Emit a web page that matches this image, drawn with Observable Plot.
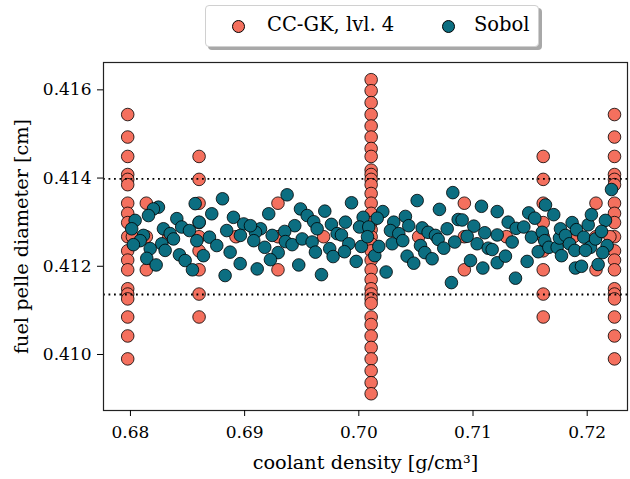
<!DOCTYPE html>
<html>
<head>
<meta charset="utf-8">
<script src="https://cdn.jsdelivr.net/npm/d3@7"></script>
<script src="https://cdn.jsdelivr.net/npm/@observablehq/plot@0.6"></script>
<style>
  body { margin: 0; background: #fff; }
  #wrap { position: relative; width: 630px; height: 479px; font-family: "DejaVu Serif", serif; }
  .legend { position: absolute; left: 205px; top: 5px; width: 332px; height: 40px;
            border: 1px solid #d0d0d0; border-radius: 4px; background: #fff;
            box-shadow: 3px 3px 0 #a8a8a8; font-size: 19.5px; color: #000; }
  .legend .mk { position: absolute; top: 14px; width: 11px; height: 11px; border-radius: 50%;
                border: 0.9px solid #000; }
  .legend .lb { position: absolute; top: 7px; white-space: nowrap; }
  g[aria-label="x-axis label"] text, g[aria-label="y-axis label"] text { font-size: 19.3px; }
</style>
</head>
<body>
<div id="wrap"></div>
<script>
// ---- data ----
const seriesNames = ["CC-GK, lvl. 4", "Sobol"];
const seriesColors = ["#f4705e", "#0c6e81"];

// CC-GK sparse grid: x nodes by level and the y nodes used at those x nodes
const ccgkX_l1 = [0.70108];
const ccgkX_l2 = [0.67976, 0.72239];
const ccgkX_l3 = [0.68601, 0.71615];
const ccgkX_l4 = [0.68139, 0.69292, 0.70924, 0.72077];
const ccgkX_l5 = [0.68017, 0.68336, 0.68924, 0.69692, 0.70524, 0.71292, 0.71880, 0.72199];

const ccgkY_35 = [0.41623, 0.41598, 0.41571, 0.41544, 0.41518, 0.41493, 0.41467, 0.41449,
                  0.41418, 0.41408, 0.41397, 0.41385, 0.41365, 0.41343, 0.41320, 0.41299,
                  0.41283, 0.41267, 0.41251, 0.41235, 0.41214, 0.41192, 0.41170, 0.41149,
                  0.41137, 0.41126, 0.41116, 0.41085, 0.41068, 0.41042, 0.41016, 0.40990,
                  0.40963, 0.40936, 0.40911];
const ccgkY_19 = [0.41544, 0.41493, 0.41449, 0.41408, 0.41397, 0.41385, 0.41343, 0.41320, 0.41299,
                  0.41267, 0.41235, 0.41214, 0.41192, 0.41149, 0.41137, 0.41126, 0.41085, 0.41042, 0.40990];
const ccgkY_9 = [0.41449, 0.41397, 0.41343, 0.41299, 0.41267, 0.41235, 0.41192, 0.41137, 0.41085];
const ccgkY_3 = [0.41343, 0.41267, 0.41192];
const ccgkY_1 = [0.41267];

// Sobol samples
const sobolX = [
  0.68567, 0.68806, 0.68245, 0.68201, 0.68158, 0.68041, 0.68011, 0.68406, 0.68449, 0.68289,
  0.68348, 0.68377, 0.68517, 0.68602, 0.68712, 0.68902, 0.68843, 0.68692, 0.68756, 0.68639,
  0.68581, 0.68274, 0.68304, 0.68173, 0.68114, 0.68085, 0.68026, 0.68143, 0.68225, 0.68429,
  0.68479, 0.68543, 0.68829, 0.68873, 0.68961,
  0.69372, 0.69211, 0.69489, 0.69548, 0.69702, 0.69936, 0.69605, 0.69635, 0.69760, 0.69883,
  0.70038, 0.70006, 0.69810, 0.69848, 0.69439, 0.69351, 0.69241, 0.69139, 0.69095, 0.68992,
  0.69051, 0.68963, 0.69080, 0.69176, 0.69357, 0.69416, 0.69504, 0.69591, 0.69745, 0.69620,
  0.69775, 0.69912, 0.69874, 0.70023, 0.69977, 0.69294, 0.69226, 0.69110, 0.69474, 0.69673,
  0.70823, 0.70511, 0.70706, 0.71074, 0.71212, 0.70210, 0.70161, 0.70408, 0.70306, 0.70437,
  0.70277, 0.70350, 0.70555, 0.70607, 0.70774, 0.70870, 0.70905, 0.71007, 0.71103, 0.71212,
  0.70671, 0.70695, 0.70840, 0.70949, 0.70292, 0.70385, 0.70540, 0.70578, 0.70642, 0.70744,
  0.71036, 0.71133, 0.71168, 0.71212, 0.70978, 0.71086, 0.70423, 0.70481, 0.70239, 0.70140,
  0.70175, 0.70811, 0.70087, 0.70076,
  0.71308, 0.71343, 0.71378, 0.71445, 0.71488, 0.71541, 0.71635, 0.71707, 0.71512, 0.71606,
  0.71628, 0.71571, 0.71474, 0.71284, 0.71372, 0.71664, 0.71737, 0.71757, 0.71766, 0.71810,
  0.71868, 0.71906, 0.71845, 0.71775, 0.71891, 0.71897, 0.71950, 0.72009, 0.71970, 0.72029,
  0.71985, 0.72037, 0.72073, 0.72160, 0.72125, 0.72175, 0.72136, 0.72096, 0.72213
];
const sobolY = [
  0.41342, 0.41353, 0.41334, 0.41330, 0.41315, 0.41304, 0.41285, 0.41308, 0.41289, 0.41285,
  0.41274, 0.41262, 0.41281, 0.41300, 0.41319, 0.41311, 0.41281, 0.41266, 0.41247, 0.41224,
  0.41258, 0.41251, 0.41236, 0.41240, 0.41270, 0.41258, 0.41249, 0.41218, 0.41203, 0.41226,
  0.41213, 0.41192, 0.41179, 0.41232, 0.41206,
  0.41362, 0.41319, 0.41330, 0.41315, 0.41325, 0.41344, 0.41301, 0.41285, 0.41295, 0.41300,
  0.41311, 0.41289, 0.41274, 0.41271, 0.41292, 0.41279, 0.41270, 0.41285, 0.41277, 0.41296,
  0.41292, 0.41270, 0.41258, 0.41243, 0.41256, 0.41249, 0.41262, 0.41255, 0.41240, 0.41232,
  0.41222, 0.41251, 0.41233, 0.41245, 0.41211, 0.41231, 0.41215, 0.41194, 0.41203, 0.41181,
  0.41367, 0.41349, 0.41329, 0.41336, 0.41324, 0.41324, 0.41309, 0.41313, 0.41300, 0.41292,
  0.41281, 0.41274, 0.41287, 0.41277, 0.41285, 0.41306, 0.41305, 0.41291, 0.41276, 0.41271,
  0.41270, 0.41261, 0.41255, 0.41268, 0.41251, 0.41258, 0.41247, 0.41231, 0.41217, 0.41241,
  0.41251, 0.41241, 0.41238, 0.41208, 0.41213, 0.41196, 0.41223, 0.41207, 0.41187, 0.41224,
  0.41245, 0.41163, 0.41289, 0.41267,
  0.41300, 0.41255, 0.41286, 0.41289, 0.41321, 0.41309, 0.41339, 0.41317, 0.41266, 0.41277,
  0.41258, 0.41233, 0.41211, 0.41223, 0.41173, 0.41243, 0.41243, 0.41264, 0.41285, 0.41270,
  0.41299, 0.41283, 0.41251, 0.41224, 0.41236, 0.41196, 0.41200, 0.41294, 0.41266, 0.41243,
  0.41236, 0.41317, 0.41262, 0.41304, 0.41279, 0.41247, 0.41231, 0.41204, 0.41374
];

// dotted reference lines
const refLines = [0.41398, 0.41136];

const xTicks = [0.68, 0.69, 0.70, 0.71, 0.72];
const yTicks = [0.410, 0.412, 0.414, 0.416];
const xDomain = [0.67764, 0.72353];
const yDomain = [0.40873, 0.41662];
const xLabel = "coolant density [g/cm³]";
const yLabel = "fuel pelle diameter [cm]";

// ---- build tables ----
const groups = [[ccgkX_l1, ccgkY_35], [ccgkX_l2, ccgkY_19], [ccgkX_l3, ccgkY_9], [ccgkX_l4, ccgkY_3], [ccgkX_l5, ccgkY_1]];
const ccgk = groups.flatMap(([xs, ys]) => xs.flatMap(x => ys.map(y => ({x, y}))));
const sobol = sobolX.map((x, i) => ({x, y: sobolY[i]}));

const chart = Plot.plot({
  width: 630,
  height: 479,
  marginLeft: 103,
  marginRight: 3,
  marginTop: 62,
  marginBottom: 69,
  style: {fontFamily: "DejaVu Serif, serif", color: "#000", background: "#fff"},
  x: {domain: xDomain},
  y: {domain: yDomain},
  marks: [
    Plot.dot(ccgk, {x: "x", y: "y", r: 6.3, fill: seriesColors[0], stroke: "#000", strokeWidth: 0.8}),
    Plot.dot(sobol, {x: "x", y: "y", r: 6.3, fill: seriesColors[1], stroke: "#000", strokeWidth: 0.8}),
    Plot.ruleY(refLines, {stroke: "#000", strokeWidth: 1.8, strokeDasharray: "1.8,3.7"}),
    Plot.frame({stroke: "#222", strokeWidth: 1.2}),
    Plot.axisX({ticks: xTicks, tickFormat: d3.format(".2f"), tickSize: 6, tickPadding: 9, fontSize: 17,
                label: xLabel, labelAnchor: "center", labelOffset: 58, labelArrow: "none"}),
    Plot.axisY({ticks: yTicks, tickFormat: d3.format(".3f"), tickSize: 6, tickPadding: 6, fontSize: 17,
                label: yLabel, labelAnchor: "center", labelOffset: 89, labelArrow: "none"})
  ]
});

const wrap = document.getElementById("wrap");
wrap.appendChild(chart);

// legend
const legend = document.createElement("div");
legend.className = "legend";
const items = [
  {mk: 26, lb: 61},
  {mk: 235.5, lb: 268}
];
seriesNames.forEach((name, i) => {
  const m = document.createElement("div");
  m.className = "mk";
  m.style.left = items[i].mk + "px";
  m.style.background = seriesColors[i];
  legend.appendChild(m);
  const t = document.createElement("div");
  t.className = "lb";
  t.style.left = items[i].lb + "px";
  t.textContent = name;
  legend.appendChild(t);
});
wrap.appendChild(legend);
chart.style.position = "absolute";
chart.style.left = "0";
chart.style.top = "0";
</script>
</body>
</html>
